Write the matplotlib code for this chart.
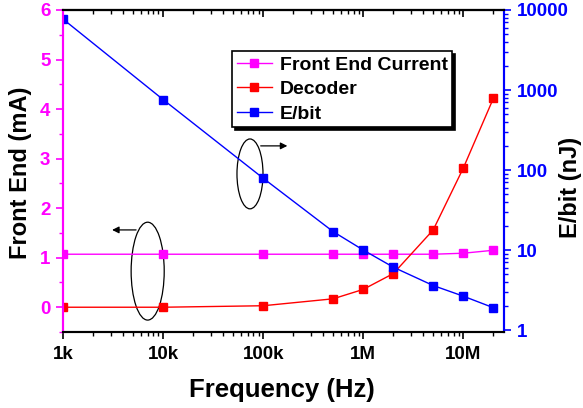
import matplotlib
matplotlib.use("Agg")
import matplotlib.pyplot as plt
from matplotlib.patches import Ellipse
from matplotlib.ticker import FixedLocator, MultipleLocator, LogLocator, NullFormatter, FixedFormatter

plt.rcParams['font.family'] = ['Liberation Sans', 'DejaVu Sans']
plt.rcParams['font.weight'] = 'bold'

freq = [1e3, 1e4, 1e5, 5e5, 1e6, 2e6, 5e6, 1e7, 2e7]
front_end = [1.07, 1.07, 1.07, 1.07, 1.07, 1.07, 1.07, 1.09, 1.15]
decoder = [0.0, 0.0, 0.03, 0.17, 0.36, 0.68, 1.56, 2.81, 4.22]
ebit = [7700, 760, 79, 17, 10, 6.1, 3.6, 2.65, 1.9]

xticks = [1e3, 1e4, 1e5, 1e6, 1e7]
xticklabels = ['1k', '10k', '100k', '1M', '10M']
rticks = [1, 10, 100, 1000, 10000]
rticklabels = ['1', '10', '100', '1000', '10000']

MAG = '#ff00ff'
BLUE = '#0000ff'
RED = '#ff0000'

W, H = 583, 408
fig = plt.figure(figsize=(5.83, 4.08), dpi=100)
ax = fig.add_axes([63/W, 1-332/H, 441/W, 322/H])
ax2 = ax.twinx()

l1, = ax.plot(freq, front_end, color=MAG, marker='s', ms=5.5, lw=1, label='Front End Current')
l2, = ax.plot(freq, decoder, color=RED, marker='s', ms=5.5, lw=1, label='Decoder')
l3, = ax2.plot(freq, ebit, color=BLUE, marker='s', ms=5.5, lw=1, label='E/bit')

ax.set_xscale('log')
ax.set_xlim(1e3, 2.55e7)
ax.set_ylim(-0.5, 6)
ax2.set_yscale('log')
ax2.set_ylim(0.945, 10000)

ax.xaxis.set_major_locator(FixedLocator(xticks))
ax.xaxis.set_major_formatter(FixedFormatter(xticklabels))
ax.xaxis.set_minor_locator(LogLocator(base=10, subs=range(2, 10)))
ax.xaxis.set_minor_formatter(NullFormatter())
ax.yaxis.set_major_locator(MultipleLocator(1))
ax.yaxis.set_minor_locator(MultipleLocator(0.5))
ax2.yaxis.set_minor_locator(LogLocator(base=10, subs=range(2, 10)))
ax2.yaxis.set_minor_formatter(NullFormatter())
ax2.set_yticks(rticks)
ax2.set_yticklabels(rticklabels)

for a in (ax, ax2):
    for s in a.spines.values():
        s.set_linewidth(1.5)
ax.spines['left'].set_color(MAG)
ax2.spines['left'].set_color(MAG)
ax2.spines['right'].set_color(BLUE)
ax.spines['right'].set_color(BLUE)

LS = 13.5
ax.tick_params(axis='x', which='major', direction='out', length=5, width=1.2, labelsize=LS, pad=5, top=False)
ax.tick_params(axis='x', which='minor', direction='out', length=3, width=1, top=False)
ax.tick_params(axis='y', which='major', direction='out', length=5, width=1.2, labelsize=LS, colors=MAG, pad=4)
ax.tick_params(axis='y', which='minor', direction='out', length=3, width=1, colors=MAG)
ax2.tick_params(axis='y', which='major', direction='out', length=5, width=1.2, labelsize=LS, colors=BLUE, pad=4)
ax2.tick_params(axis='y', which='minor', direction='out', length=3, width=1, colors=BLUE)

for lab in ax.get_xticklabels() + ax.get_yticklabels() + ax2.get_yticklabels():
    lab.set_fontweight('bold')

sec = ax.secondary_xaxis('top')
sec.xaxis.set_major_locator(FixedLocator(xticks))
sec.xaxis.set_minor_locator(LogLocator(base=10, subs=range(2, 10)))
sec.xaxis.set_minor_formatter(NullFormatter())
sec.tick_params(axis='x', which='major', direction='in', length=5, width=1.2, labeltop=False)
sec.tick_params(axis='x', which='minor', direction='in', length=3, width=1)
sec.spines['top'].set_linewidth(1.5)

fig.text(282/W, 1-390/H, 'Frequency (Hz)', fontsize=18.5, fontweight='bold', ha='center', va='center')
fig.text(21/W, 1-173/H, 'Front End (mA)', fontsize=17, fontweight='bold', ha='center', va='center', rotation=90)
fig.text(570/W, 1-187/H, 'E/bit (nJ)', fontsize=17, fontweight='bold', ha='center', va='center', rotation=90)

leg = ax.legend(handles=[l1, l2, l3], loc='upper left', bbox_to_anchor=(0.383, 0.872),
                frameon=True, fancybox=False, shadow={'color': 'black', 'alpha': 1},
                handlelength=1.8, handletextpad=0.4, borderpad=0.25, labelspacing=0.35,
                borderaxespad=0, prop={'weight': 'bold', 'size': 14})
leg.get_frame().set_edgecolor('black')
leg.get_frame().set_linewidth(1.2)
leg.set_zorder(10)

# annotation ellipses and arrows (axes coordinates)
e1 = Ellipse((0.192, 0.189), 0.075, 0.304, transform=ax.transAxes, fill=False, ec='black', lw=0.9)
e2 = Ellipse((0.424, 0.491), 0.059, 0.217, transform=ax.transAxes, fill=False, ec='black', lw=0.9)
ax.add_patch(e1)
ax.add_patch(e2)
ax.annotate('', xy=(0.105, 0.317), xytext=(0.172, 0.317), xycoords='axes fraction',
            arrowprops=dict(arrowstyle='-|>', color='black', lw=0.9, mutation_scale=10))
ax.annotate('', xy=(0.515, 0.578), xytext=(0.442, 0.578), xycoords='axes fraction',
            arrowprops=dict(arrowstyle='-|>', color='black', lw=0.9, mutation_scale=10))

fig.savefig('out.png', dpi=100)
